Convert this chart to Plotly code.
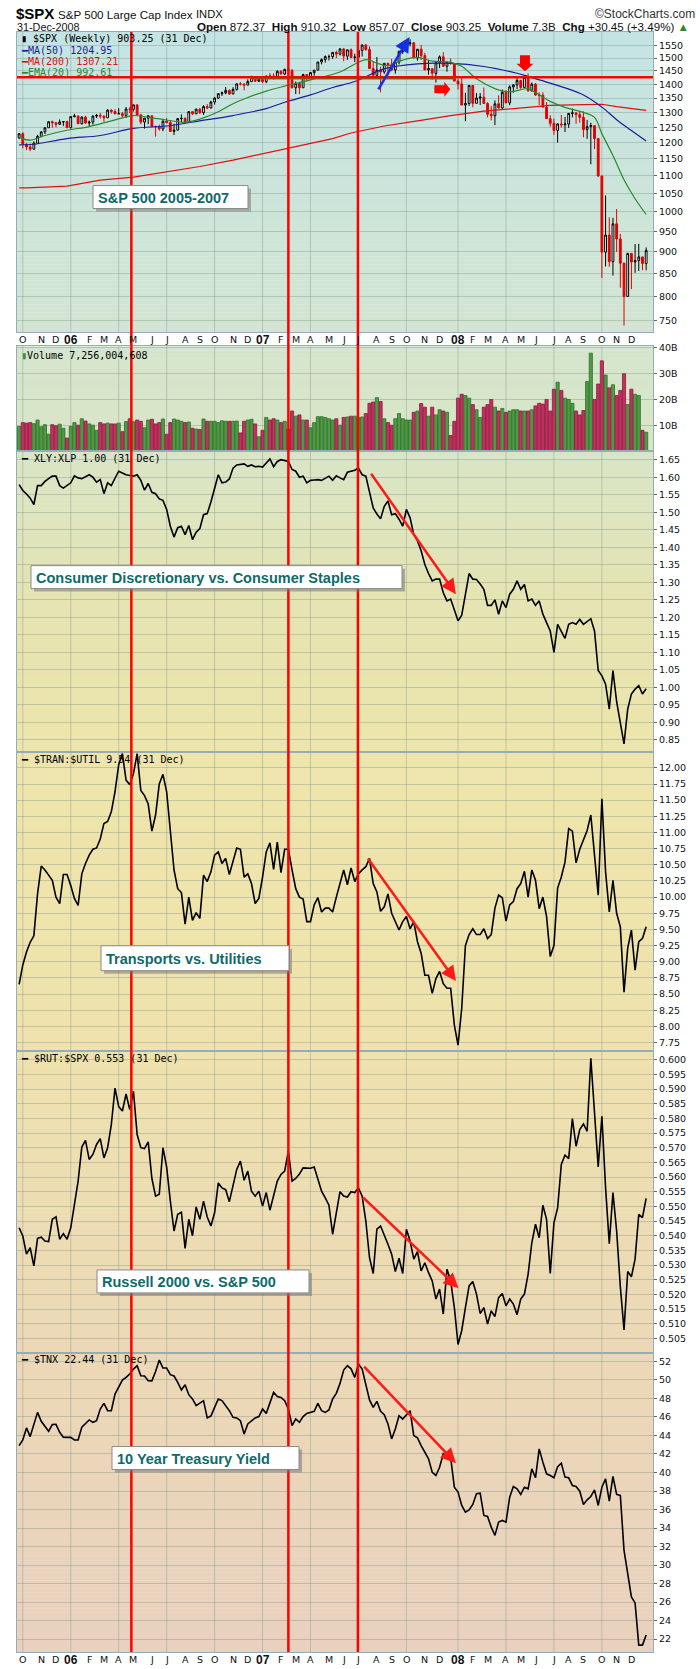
import numpy as np
import pandas as pd
import plotly.graph_objects as go

W, H = 700, 1669
X_L, X_R = 17, 653

# ---------------- data ----------------
week_start = pd.date_range("2005-09-26", periods=171, freq="W-MON")

spx_open = [
    1215.6, 1228.8, 1195.9, 1186.6, 1179.6, 1198.4, 1220.1, 1234.7, 1248.3, 1268.3,
    1265.1, 1259.4, 1267.3, 1268.7, 1248.3, 1285.5, 1287.6, 1261.5, 1283.7, 1264.0,
    1266.9, 1287.2, 1289.4, 1287.2, 1281.4, 1307.3, 1302.9, 1294.8, 1295.5, 1289.1,
    1311.3, 1310.6, 1325.8, 1291.2, 1267.0, 1280.2, 1288.2, 1252.3, 1251.5, 1244.5,
    1270.2, 1265.5, 1236.2, 1240.3, 1278.6, 1279.4, 1266.7, 1302.3, 1295.1, 1311.0,
    1298.9, 1319.7, 1314.8, 1335.9, 1349.6, 1365.6, 1368.6, 1377.3, 1364.3, 1380.9,
    1401.2, 1400.9, 1396.7, 1409.8, 1427.1, 1410.8, 1418.3, 1409.7, 1430.7, 1430.5,
    1422.2, 1448.4, 1438.1, 1455.5, 1451.2, 1387.2, 1402.8, 1386.9, 1436.1, 1420.9,
    1443.8, 1452.9, 1484.4, 1494.1, 1505.6, 1505.9, 1522.8, 1515.7, 1536.3, 1507.7,
    1532.9, 1502.6, 1503.4, 1530.4, 1552.5, 1534.1, 1458.9, 1433.1, 1453.6, 1445.9,
    1479.4, 1474.0, 1453.6, 1484.3, 1525.8, 1526.8, 1557.6, 1561.8, 1500.6, 1535.3,
    1509.7, 1453.7, 1458.7, 1440.7, 1481.1, 1504.7, 1468.0, 1484.5, 1478.5, 1411.6,
    1401.0, 1325.2, 1330.6, 1395.4, 1331.3, 1350.0, 1353.1, 1330.6, 1293.4, 1288.1,
    1329.5, 1315.2, 1370.4, 1332.8, 1390.3, 1397.8, 1413.9, 1388.3, 1425.4, 1375.9,
    1400.4, 1360.7, 1360.0, 1317.9, 1278.4, 1262.9, 1239.5, 1260.7, 1257.8, 1260.3,
    1296.3, 1298.2, 1292.2, 1282.8, 1242.3, 1251.7, 1255.1, 1213.3, 1099.2, 899.2,
    940.6, 876.8, 968.8, 931.0, 873.3, 800.0, 896.2, 876.1, 879.7, 887.9,
    872.37]
spx_high = [
    1229.9, 1233.3, 1197.4, 1197.3, 1204.0, 1225.0, 1235.7, 1249.6, 1268.8, 1272.1,
    1265.9, 1275.8, 1270.5, 1271.8, 1286.1, 1294.9, 1287.6, 1286.4, 1287.9, 1272.2,
    1289.2, 1294.3, 1297.6, 1288.5, 1310.9, 1310.9, 1310.2, 1314.1, 1300.7, 1318.2,
    1317.7, 1326.7, 1326.7, 1294.8, 1280.5, 1290.7, 1288.2, 1255.2, 1258.6, 1272.9,
    1280.4, 1273.3, 1261.5, 1280.4, 1292.9, 1283.0, 1302.3, 1302.3, 1312.0, 1315.1,
    1324.6, 1328.5, 1340.0, 1353.8, 1366.6, 1372.8, 1389.5, 1381.4, 1388.9, 1403.8,
    1407.9, 1402.5, 1418.3, 1431.6, 1430.0, 1427.7, 1429.4, 1431.6, 1441.6, 1440.7,
    1452.0, 1453.0, 1458.7, 1461.6, 1457.0, 1410.2, 1409.3, 1438.9, 1437.8, 1445.9,
    1453.1, 1484.7, 1498.0, 1510.3, 1513.8, 1522.8, 1529.9, 1540.6, 1540.6, 1533.3,
    1538.7, 1517.1, 1532.4, 1555.1, 1555.9, 1547.2, 1488.3, 1503.9, 1466.3, 1479.4,
    1481.5, 1496.4, 1485.4, 1530.4, 1533.7, 1561.9, 1576.1, 1564.7, 1535.9, 1552.8,
    1520.8, 1492.1, 1458.7, 1488.9, 1510.5, 1523.6, 1485.4, 1498.9, 1478.5, 1421.0,
    1425.0, 1368.6, 1396.0, 1395.4, 1367.9, 1367.9, 1388.3, 1335.1, 1321.7, 1341.6,
    1359.7, 1380.9, 1378.0, 1395.9, 1399.6, 1422.7, 1416.0, 1425.8, 1440.2, 1406.3,
    1404.1, 1370.6, 1370.6, 1335.6, 1290.3, 1278.5, 1262.3, 1291.2, 1284.4, 1297.9,
    1313.2, 1298.6, 1303.6, 1303.0, 1274.4, 1265.1, 1255.1, 1213.3, 1099.2, 1044.3,
    985.4, 984.4, 1007.5, 943.6, 874.4, 896.3, 896.2, 918.6, 918.9, 887.9,
    910.32]
spx_low = [
    1211.7, 1181.9, 1176.6, 1173.4, 1178.9, 1198.4, 1217.3, 1227.7, 1248.3, 1248.4,
    1250.0, 1259.4, 1254.3, 1248.3, 1245.7, 1282.8, 1261.0, 1258.6, 1261.6, 1253.0,
    1258.3, 1280.2, 1278.7, 1268.4, 1281.4, 1295.8, 1294.7, 1294.8, 1280.7, 1280.7,
    1298.0, 1303.0, 1290.9, 1259.6, 1245.3, 1259.8, 1250.6, 1219.3, 1238.5, 1237.0,
    1263.0, 1236.2, 1224.5, 1240.3, 1265.7, 1261.3, 1266.7, 1291.0, 1293.6, 1294.1,
    1290.9, 1310.9, 1314.8, 1327.1, 1347.0, 1357.5, 1363.4, 1360.7, 1364.3, 1376.5,
    1395.2, 1377.8, 1396.7, 1407.8, 1410.3, 1410.1, 1404.0, 1403.9, 1421.6, 1416.9,
    1419.6, 1437.1, 1433.8, 1449.0, 1384.1, 1364.0, 1364.0, 1386.9, 1412.1, 1416.4,
    1431.8, 1452.9, 1475.3, 1482.0, 1490.7, 1496.8, 1500.2, 1510.2, 1487.4, 1492.7,
    1499.6, 1484.2, 1503.4, 1506.3, 1529.2, 1458.9, 1433.1, 1429.4, 1370.6, 1439.2,
    1432.0, 1449.1, 1439.3, 1475.0, 1516.6, 1526.8, 1546.7, 1500.3, 1489.6, 1492.5,
    1453.6, 1435.7, 1416.2, 1406.1, 1460.7, 1468.0, 1447.1, 1474.4, 1411.2, 1380.9,
    1324.5, 1270.1, 1322.4, 1317.5, 1331.3, 1325.3, 1330.6, 1282.7, 1272.7, 1257.0,
    1312.8, 1312.6, 1332.1, 1324.4, 1369.4, 1382.0, 1382.5, 1384.7, 1373.1, 1373.1,
    1358.0, 1324.9, 1317.9, 1278.4, 1252.0, 1225.3, 1200.4, 1248.5, 1234.4, 1247.5,
    1282.9, 1261.2, 1264.8, 1217.2, 1212.3, 1133.5, 1180.0, 1096.4, 839.8, 865.8,
    865.0, 845.3, 899.7, 818.7, 741.0, 800.0, 815.7, 851.4, 855.6, 857.1,
    857.07]
spx_close = [
    1228.8, 1195.9, 1186.6, 1179.6, 1198.4, 1220.1, 1234.7, 1248.3, 1268.3, 1265.1,
    1259.4, 1267.3, 1268.7, 1248.3, 1285.5, 1287.6, 1261.5, 1283.7, 1264.0, 1266.9,
    1287.2, 1289.4, 1287.2, 1281.4, 1307.3, 1302.9, 1294.8, 1295.5, 1289.1, 1311.3,
    1310.6, 1325.8, 1291.2, 1267.0, 1280.2, 1288.2, 1252.3, 1251.5, 1244.5, 1270.2,
    1265.5, 1236.2, 1240.3, 1278.6, 1279.4, 1266.7, 1302.3, 1295.1, 1311.0, 1298.9,
    1319.7, 1314.8, 1335.9, 1349.6, 1365.6, 1368.6, 1377.3, 1364.3, 1380.9, 1401.2,
    1400.9, 1396.7, 1409.8, 1427.1, 1410.8, 1418.3, 1409.7, 1430.7, 1430.5, 1422.2,
    1448.4, 1438.1, 1455.5, 1451.2, 1387.2, 1402.8, 1386.9, 1436.1, 1420.9, 1443.8,
    1452.9, 1484.4, 1494.1, 1505.6, 1505.9, 1522.8, 1515.7, 1536.3, 1507.7, 1532.9,
    1502.6, 1503.4, 1530.4, 1552.5, 1534.1, 1458.9, 1433.1, 1453.6, 1445.9, 1479.4,
    1474.0, 1453.6, 1484.3, 1525.8, 1526.8, 1557.6, 1561.8, 1500.6, 1535.3, 1509.7,
    1453.7, 1458.7, 1440.7, 1481.1, 1504.7, 1468.0, 1484.5, 1478.5, 1411.6, 1401.0,
    1325.2, 1330.6, 1395.4, 1331.3, 1350.0, 1353.1, 1330.6, 1293.4, 1288.1, 1329.5,
    1315.2, 1370.4, 1332.8, 1390.3, 1397.8, 1413.9, 1388.3, 1425.4, 1375.9, 1400.4,
    1360.7, 1360.0, 1317.9, 1278.4, 1262.9, 1239.5, 1260.7, 1257.8, 1260.3, 1296.3,
    1298.2, 1292.2, 1282.8, 1242.3, 1251.7, 1255.1, 1213.3, 1099.2, 899.2, 940.6,
    876.8, 968.8, 931.0, 873.3, 800.0, 896.2, 876.1, 879.7, 887.9, 872.8,
    903.25]
volume_b = [
    9.5, 11.0, 10.8, 11.0, 10.6, 12.0, 9.4, 10.2, 6.5, 10.2,
    9.8, 10.4, 8.8, 5.0, 9.5, 11.0, 10.0, 12.5, 11.6, 10.5,
    10.0, 8.0, 11.0, 10.5, 10.8, 10.5, 10.5, 10.8, 7.5, 11.4,
    12.5, 11.3, 12.0, 11.5, 9.0, 12.0, 12.3, 10.5, 11.0, 12.4,
    6.5, 11.0, 12.4, 12.0, 11.5, 11.0, 11.2, 8.8, 8.5, 8.3,
    12.4, 11.5, 11.5, 11.5, 11.0, 11.7, 11.5, 11.5, 11.5, 11.6,
    7.0, 11.5, 12.0, 12.3, 10.5, 5.5, 8.0, 13.0, 12.0, 12.5,
    12.0, 11.0, 11.5, 8.5, 15.5, 13.5, 14.0, 12.0, 12.0, 9.0,
    11.0, 13.3, 13.3, 13.0, 12.5, 12.0, 12.5, 10.0, 13.0, 13.2,
    13.5, 13.5, 13.0, 13.2, 14.5, 18.5, 19.0, 20.7, 19.2, 12.5,
    11.0, 10.0, 12.5, 14.5, 12.5, 12.0, 12.0, 15.0, 15.5, 18.4,
    17.0, 13.5, 17.0, 14.0, 16.0, 15.5, 15.0, 6.0, 11.5, 20.5,
    22.0, 21.5, 20.5, 18.0, 16.0, 13.0, 17.0, 18.0, 20.0, 17.0,
    15.5, 16.5, 15.0, 15.5, 16.0, 16.0, 15.5, 15.5, 15.5, 16.0,
    17.5, 18.5, 18.2, 20.0, 15.5, 24.0, 26.7, 23.5, 20.5, 20.0,
    18.5, 15.5, 14.0, 15.7, 27.0, 38.0, 20.0, 26.0, 35.0, 29.5,
    24.5, 25.7, 21.5, 23.5, 30.0, 18.0, 24.0, 22.0, 21.5, 8.0,
    7.26]
xly_xlp = [
    1.579, 1.562, 1.552, 1.540, 1.522, 1.576, 1.576, 1.588, 1.596, 1.603,
    1.603, 1.576, 1.569, 1.576, 1.584, 1.604, 1.598, 1.596, 1.601, 1.607,
    1.600, 1.586, 1.593, 1.553, 1.584, 1.576, 1.597, 1.617, 1.612, 1.607,
    1.605, 1.603, 1.607, 1.591, 1.563, 1.582, 1.557, 1.553, 1.538, 1.534,
    1.508, 1.460, 1.429, 1.456, 1.460, 1.436, 1.462, 1.422, 1.443, 1.453,
    1.493, 1.496, 1.529, 1.569, 1.607, 1.584, 1.586, 1.595, 1.626, 1.635,
    1.637, 1.638, 1.631, 1.635, 1.630, 1.631, 1.629, 1.640, 1.652, 1.630,
    1.645, 1.650, 1.648, 1.645, 1.622, 1.617, 1.600, 1.603, 1.584, 1.591,
    1.592, 1.593, 1.591, 1.597, 1.603, 1.591, 1.604, 1.598, 1.593, 1.614,
    1.617, 1.620, 1.626, 1.607, 1.603, 1.555, 1.512, 1.495, 1.481, 1.517,
    1.532, 1.493, 1.496, 1.480, 1.460, 1.508, 1.484, 1.436, 1.418, 1.390,
    1.351, 1.325, 1.304, 1.309, 1.309, 1.270, 1.247, 1.252, 1.220, 1.190,
    1.206, 1.261, 1.325, 1.309, 1.308, 1.295, 1.280, 1.234, 1.234, 1.250,
    1.209, 1.247, 1.228, 1.266, 1.280, 1.304, 1.280, 1.294, 1.247, 1.252,
    1.234, 1.247, 1.209, 1.185, 1.161, 1.100, 1.180, 1.160, 1.140, 1.180,
    1.185, 1.180, 1.194, 1.180, 1.188, 1.196, 1.161, 1.048, 1.033, 1.009,
    0.938, 1.048, 0.959, 0.900, 0.839, 0.938, 0.981, 0.995, 1.005, 0.981,
    0.996]
tran_util = [
    8.65, 8.95, 9.15, 9.30, 9.40, 10.05, 10.48, 10.42, 10.34, 10.26,
    10.00, 9.90, 10.35, 10.35, 10.18, 9.98, 9.87, 10.36, 10.52, 10.65,
    10.74, 10.76, 10.90, 11.14, 11.17, 11.32, 11.63, 12.05, 12.22, 11.81,
    11.74, 11.91, 12.22, 11.65, 11.57, 11.44, 11.02, 11.27, 11.75, 11.90,
    11.63, 11.01, 10.42, 10.13, 10.07, 9.58, 10.00, 9.64, 9.76, 9.67,
    10.34, 10.24, 10.39, 10.65, 10.70, 10.52, 10.60, 10.35, 10.57, 10.76,
    10.74, 10.31, 10.36, 10.21, 9.90, 9.98, 10.31, 10.70, 10.84, 10.43,
    10.85, 10.38, 10.74, 10.74, 10.42, 10.13, 10.00, 9.97, 9.62, 9.62,
    9.88, 9.99, 9.77, 9.83, 9.83, 9.77, 10.00, 10.21, 10.42, 10.19,
    10.45, 10.24, 10.36, 10.42, 10.47, 10.60, 10.21, 10.08, 9.78, 9.85,
    10.05, 9.75, 9.62, 9.49, 9.62, 9.70, 9.51, 9.62, 9.31, 9.13,
    8.79, 8.79, 8.51, 8.74, 8.85, 8.66, 8.59, 8.59, 8.02, 7.71,
    8.28, 9.25, 9.42, 9.51, 9.42, 9.42, 9.51, 9.36, 9.42, 9.83,
    10.03, 9.99, 9.63, 9.88, 9.93, 10.13, 10.21, 10.40, 10.00, 10.42,
    10.26, 9.82, 10.00, 9.70, 9.08, 9.25, 10.14, 10.31, 10.54, 11.06,
    11.02, 10.53, 10.74, 10.90, 11.03, 11.27, 10.65, 10.03, 11.52, 10.39,
    9.77, 10.26, 9.75, 9.54, 8.53, 9.21, 9.49, 8.87, 9.31, 9.36,
    9.54]
rut_spx = [
    .5427, .5399, .5337, .5359, .5297, .5391, .5395, .5382, .5380, .5456,
    .5464, .5388, .5407, .5388, .5427, .5507, .5586, .5702, .5725, .5660,
    .5677, .5711, .5731, .5665, .5700, .5779, .5903, .5840, .5825, .5883,
    .5830, .5892, .5745, .5700, .5697, .5720, .5595, .5535, .5541, .5700,
    .5634, .5518, .5416, .5473, .5480, .5357, .5456, .5400, .5498, .5456,
    .5518, .5464, .5433, .5478, .5580, .5563, .5557, .5516, .5575, .5626,
    .5654, .5589, .5620, .5552, .5535, .5552, .5501, .5547, .5487, .5538,
    .5586, .5609, .5620, .5688, .5586, .5595, .5610, .5631, .5631, .5630,
    .5634, .5595, .5552, .5529, .5504, .5405, .5473, .5550, .5535, .5532,
    .5550, .5547, .5563, .5535, .5450, .5325, .5271, .5422, .5433, .5405,
    .5371, .5337, .5278, .5323, .5271, .5422, .5382, .5320, .5346, .5280,
    .5308, .5274, .5246, .5184, .5218, .5133, .5286, .5246, .5155, .5029,
    .5077, .5155, .5229, .5244, .5201, .5135, .5155, .5099, .5144, .5124,
    .5189, .5203, .5161, .5184, .5167, .5131, .5184, .5201, .5269, .5376,
    .5439, .5393, .5504, .5456, .5271, .5444, .5495, .5643, .5675, .5663,
    .5799, .5705, .5762, .5781, .5756, .6005, .5813, .5634, .5807, .5563,
    .5373, .5547, .5416, .5226, .5079, .5278, .5260, .5320, .5473, .5462,
    .5527]
tnx = [
    42.91, 43.52, 44.82, 43.88, 45.2, 46.50, 45.53, 45.0, 44.45, 45.18,
    45.2, 44.35, 43.81, 43.8, 43.81, 43.52, 43.52, 44.89, 45.3, 45.68,
    45.42, 45.6, 46.86, 47.47, 46.68, 46.68, 48.48, 49.2, 49.99, 50.28,
    50.64, 51.18, 51.54, 50.46, 50.43, 49.92, 49.9, 50.92, 52.15, 51.29,
    51.29, 50.57, 50.43, 49.74, 48.92, 49.49, 48.41, 47.95, 47.23, 47.5,
    47.76, 45.90, 46.1, 47.04, 47.95, 47.77, 47.2, 46.68, 45.96, 45.9,
    45.6, 44.17, 45.25, 45.6, 45.9, 46.04, 46.86, 46.39, 47.47, 48.66,
    48.2, 48.12, 47.76, 46.86, 45.07, 45.79, 45.42, 46.04, 46.39, 46.5,
    46.61, 47.47, 46.68, 46.5, 46.75, 47.95, 48.55, 49.63, 51.07, 51.54,
    51.2, 50.28, 51.72, 51.18, 49.56, 47.84, 47.04, 47.69, 46.61, 46.25,
    45.25, 43.63, 44.71, 46.14, 45.78, 46.2, 46.68, 43.99, 43.74, 42.91,
    42.19, 41.48, 40.03, 39.68, 40.57, 42.02, 41.66, 41.6, 38.41, 37.88,
    36.44, 35.72, 35.96, 36.55, 37.70, 37.77, 35.36, 35.25, 34.10, 33.21,
    34.64, 34.82, 34.64, 37.34, 38.49, 38.24, 37.63, 38.41, 38.24, 40.39,
    39.43, 42.55, 41.11, 39.86, 39.68, 39.43, 40.64, 41.0, 39.5, 39.43,
    38.6, 38.49, 37.98, 36.55, 37.05, 37.41, 38.13, 36.44, 38.41, 39.32,
    36.91, 39.57, 37.63, 37.52, 31.59, 29.08, 26.56, 25.91, 21.35, 21.35,
    22.44]

ma50_week = [0, 4, 13, 22, 31, 40, 49, 58, 67, 72, 79, 85, 91, 99, 108, 117, 126, 135, 138, 144, 153, 158, 162, 166, 170]
ma50_val = [1193, 1195, 1213, 1223, 1246, 1254, 1271, 1289, 1313, 1335, 1361, 1388, 1410, 1458, 1477, 1479, 1467, 1441, 1429, 1404, 1361, 1318, 1275, 1239, 1205]
ma200_week = [0, 2, 13, 22, 31, 40, 49, 58, 67, 72, 85, 90, 99, 108, 117, 126, 135, 144, 153, 158, 162, 170]
ma200_val = [1065, 1065, 1070, 1087, 1096, 1112, 1127, 1146, 1168, 1182, 1213, 1231, 1254, 1271, 1289, 1304, 1315, 1324, 1327, 1328, 1320, 1307]
ema20_week = [0, 3, 7, 13, 19, 25, 31, 35, 40, 45, 49, 54, 58, 62, 67, 72, 79, 87, 94, 97, 100, 104, 108, 112, 117, 120, 124, 129, 133, 138, 140, 144, 148, 153, 156, 158, 161, 164, 167, 170]
ema20_val = [1217, 1208, 1223, 1240, 1252, 1271, 1289, 1283, 1274, 1266, 1277, 1302, 1330, 1352, 1375, 1393, 1416, 1446, 1494, 1480, 1470, 1492, 1503, 1488, 1483, 1468, 1420, 1384, 1372, 1384, 1370, 1338, 1317, 1300, 1283, 1229, 1160, 1088, 1035, 993]

red_marker_dates = ["2006-04-27", "2007-02-19", "2007-07-01"]
month_letters = ["J", "F", "M", "A", "M", "J", "J", "A", "S", "O", "N", "D"]
price_ticks = [750, 800, 850, 900, 950, 1000, 1050, 1100, 1150, 1200, 1250, 1300, 1350, 1400, 1450, 1500, 1550]
vol_ticks = [10, 20, 30, 40]
xly_ticks = [0.85, 0.90, 0.95, 1.00, 1.05, 1.10, 1.15, 1.20, 1.25, 1.30, 1.35, 1.40, 1.45, 1.50, 1.55, 1.60, 1.65]
tran_ticks = [7.75, 8.00, 8.25, 8.50, 8.75, 9.00, 9.25, 9.50, 9.75, 10.00, 10.25, 10.50, 10.75, 11.00, 11.25, 11.50, 11.75, 12.00]
rut_ticks = [0.505, 0.510, 0.515, 0.520, 0.525, 0.530, 0.535, 0.540, 0.545, 0.550, 0.555, 0.560, 0.565, 0.570, 0.575, 0.580, 0.585, 0.590, 0.595, 0.600]
tnx_ticks = [22, 24, 26, 28, 30, 32, 34, 36, 38, 40, 42, 44, 46, 48, 50, 52]

# ---------------- layout helpers ----------------
def fx(p):
    return p / W

def fy(p):
    return 1 - p / H

panels = [(28, 329), (343, 448), (448, 750), (750, 1050), (1050, 1352), (1352, 1652)]
X_RANGE = ["2005-09-22", "2009-01-11"]
BORDER = "#94adb8"
GRID = "rgba(120,145,135,0.38)"

color_stops = [
    (28, (196, 228, 228)), (329, (211, 229, 210)), (343, (213, 229, 204)), (448, (217, 229, 199)),
    (600, (229, 228, 178)), (750, (237, 229, 171)), (900, (239, 228, 171)), (1050, (239, 226, 174)),
    (1200, (237, 221, 178)), (1352, (236, 216, 182)), (1500, (235, 213, 186)), (1652, (233, 209, 190)),
]

def grad(y):
    for (y0, c0), (y1, c1) in zip(color_stops[:-1], color_stops[1:]):
        if y0 <= y <= y1:
            t = (y - y0) / (y1 - y0)
            c = [round(a + (b - a) * t) for a, b in zip(c0, c1)]
            return "rgb(%d,%d,%d)" % tuple(c)
    return "rgb(%d,%d,%d)" % color_stops[-1][1]

shapes = []
annotations = []

# gradient backgrounds
for (t, b) in panels:
    n = max(1, int((b - t) / 4))
    for k in range(n):
        y0 = t + (b - t) * k / n
        y1 = t + (b - t) * (k + 1) / n
        shapes.append(dict(type="rect", xref="paper", yref="paper", x0=fx(X_L), x1=fx(X_R),
                           y0=fy(y1 + 0.6), y1=fy(y0), fillcolor=grad((y0 + y1) / 2),
                           line=dict(width=0), layer="below"))

# month label positions: first weekly bar (Monday) of every month
months = pd.date_range("2005-10-01", "2008-12-01", freq="MS")
first_mondays = [m + pd.Timedelta(days=(7 - m.weekday()) % 7) for m in months]
quarter_lines = [d for d, m in zip(first_mondays, months) if m.month in (1, 4, 7, 10)]

# vertical quarterly gridlines
for d in quarter_lines:
    for (ya, yb) in [(28, 329), (343, 1652)]:
        shapes.append(dict(type="line", xref="x", yref="paper", x0=d, x1=d, y0=fy(yb), y1=fy(ya),
                           line=dict(color=GRID, width=1), layer="below"))

fig = go.Figure()

# ---- price panel ----
fig.add_trace(go.Candlestick(
    x=week_start, open=spx_open, high=spx_high, low=spx_low, close=spx_close,
    increasing=dict(line=dict(color="black", width=1), fillcolor="white"),
    decreasing=dict(line=dict(color="#e00000", width=1), fillcolor="#e00000"),
    whiskerwidth=0, xaxis="x", yaxis="y", showlegend=False, hoverinfo="skip"))
fig.add_trace(go.Scatter(x=week_start[ma200_week], y=ma200_val, mode="lines",
                         line=dict(color="#e01010", width=1.2), xaxis="x", yaxis="y",
                         showlegend=False, hoverinfo="skip"))
fig.add_trace(go.Scatter(x=week_start[ma50_week], y=ma50_val, mode="lines", line_shape="spline",
                         line=dict(color="#1c1c9c", width=1.2), xaxis="x", yaxis="y",
                         showlegend=False, hoverinfo="skip"))
fig.add_trace(go.Scatter(x=week_start[ema20_week], y=ema20_val, mode="lines", line_shape="spline",
                         line=dict(color="#2a8a2a", width=1.2), xaxis="x", yaxis="y",
                         showlegend=False, hoverinfo="skip"))

# ---- volume ----
vol_up = [spx_close[0] >= spx_open[0]] + [spx_close[i] >= spx_close[i - 1] for i in range(1, len(spx_close))]
fig.add_trace(go.Bar(x=week_start, y=volume_b, width=6 * 86400000,
                     marker=dict(color=["#4f9a45" if u else "#c3305e" for u in vol_up],
                                 line=dict(color=["#2f6e2a" if u else "#8a1a40" for u in vol_up], width=0.8)),
                     xaxis="x2", yaxis="y2", showlegend=False, hoverinfo="skip"))

# ---- ratio / yield lines ----
for ser, ax in [(xly_xlp, "3"), (tran_util, "4"), (rut_spx, "5"), (tnx, "6")]:
    fig.add_trace(go.Scatter(x=week_start, y=ser, mode="lines", line=dict(color="black", width=1.6),
                             xaxis="x" + ax, yaxis="y" + ax, showlegend=False, hoverinfo="skip"))

# ---- axes ----
layout = dict(width=W, height=H, margin=dict(l=0, r=0, t=0, b=0), paper_bgcolor="white",
              plot_bgcolor="rgba(0,0,0,0)", font=dict(family="DejaVu Sans", size=10, color="#111"),
              showlegend=False, bargap=0)

def xaxis_conf(anchor):
    return dict(domain=[fx(X_L), fx(X_R)], anchor=anchor, range=X_RANGE, type="date",
                showgrid=False, zeroline=False, showline=True, linecolor=BORDER, mirror=True,
                showticklabels=False, ticks="", rangeslider=dict(visible=False), fixedrange=True)

def yaxis_conf(anchor, pan, rng, ticks, fmt, typ="linear"):
    t, b = pan
    return dict(domain=[fy(b), fy(t)], anchor=anchor, range=rng, type=typ, side="right",
                tickmode="array", tickvals=ticks, ticktext=[fmt.format(v) for v in ticks],
                ticks="outside", ticklen=3, tickcolor="#666",
                tickfont=dict(family="DejaVu Sans", size=9.5, color="#111"),
                showgrid=True, gridcolor=GRID, gridwidth=1, zeroline=False,
                showline=True, linecolor=BORDER, mirror=True, fixedrange=True)

layout["xaxis"] = xaxis_conf("y")
layout["yaxis"] = yaxis_conf("x", panels[0], [np.log10(728.0), np.log10(1607.0)], price_ticks, "{:d}", typ="log")
layout["xaxis2"] = xaxis_conf("y2")
layout["yaxis2"] = yaxis_conf("x2", panels[1], [0, 40.7], vol_ticks, "{:d}B")
layout["xaxis3"] = xaxis_conf("y3")
layout["yaxis3"] = yaxis_conf("x3", panels[2], [0.815, 1.675], xly_ticks, "{:.2f}")
layout["xaxis4"] = xaxis_conf("y4")
layout["yaxis4"] = yaxis_conf("x4", panels[3], [7.611, 12.242], tran_ticks, "{:.2f}")
layout["xaxis5"] = xaxis_conf("y5")
layout["yaxis5"] = yaxis_conf("x5", panels[4], [0.5001, 0.6028], rut_ticks, "{:.3f}")
layout["xaxis6"] = xaxis_conf("y6")
layout["yaxis6"] = yaxis_conf("x6", panels[5], [20.6, 52.94], tnx_ticks, "{:d}")

# month labels (under price panel and under bottom panel)
for d, m in zip(first_mondays, months):
    if m.month == 1:
        label = "<b>%s</b>" % m.strftime("%y")
        f = dict(family="Liberation Sans, Arial, sans-serif", size=12, color="#111")
    else:
        label = month_letters[m.month - 1]
        f = dict(family="DejaVu Sans", size=9.5, color="#111")
    for yrow in (336.5, 1659.5):
        annotations.append(dict(xref="x", yref="paper", x=d.strftime("%Y-%m-%d"), y=fy(yrow), text=label,
                                showarrow=False, xanchor="center", yanchor="middle", font=f))

# ---- price panel overlays ----
shapes.append(dict(type="line", xref="x", yref="y", x0="2006-12-09", x1="2008-01-01", y0=1423, y1=1423,
                   line=dict(color="#1f9a1f", width=3), layer="above"))
shapes.append(dict(type="line", xref="x domain", yref="y", x0=0, x1=1, y0=1426, y1=1426,
                   line=dict(color="#ff0000", width=2.5), layer="above"))
# fat red arrows
shapes.append(dict(type="path", xref="x", yref="y", xsizemode="pixel", ysizemode="pixel",
                   xanchor="2007-11-23", yanchor=1382,
                   path="M0,-4 L10,-4 L10,-7.5 L16,0 L10,7.5 L10,4 L0,4 Z",
                   fillcolor="#ff0000", line=dict(width=0), layer="above"))
shapes.append(dict(type="path", xref="x", yref="y", xsizemode="pixel", ysizemode="pixel",
                   xanchor="2008-05-13", yanchor=1449,
                   path="M-5,16 L5,16 L5,7.5 L8.5,7.5 L0,0 L-8.5,7.5 L-5,7.5 Z",
                   fillcolor="#ff0000", line=dict(width=0), layer="above"))

# red vertical marker lines
for d in red_marker_dates:
    shapes.append(dict(type="line", xref="x", yref="paper", x0=d, x1=d, y0=fy(1652), y1=fy(28),
                       line=dict(color="#ff0000", width=2.5), layer="above"))

# ---- caption boxes ----
TEAL = "#0f6a6a"
boxes = [
    ("S&P 500 2005-2007", 93, 248, 182, 205, 96),
    ("Consumer Discretionary vs. Consumer Staples", 31, 402, 563, 586, 34),
    ("Transports vs. Utilities", 101, 289, 944, 969, 104),
    ("Russell 2000 vs. S&P 500", 97, 309, 1269, 1292, 100),
    ("10 Year Treasury Yield", 112, 299, 1446, 1469, 115),
]
for text, x0, x1, y0, y1, tx in boxes:
    shapes.append(dict(type="rect", xref="paper", yref="paper", x0=fx(x0 + 3), x1=fx(x1 + 3),
                       y0=fy(y1 + 3), y1=fy(y0 + 3), fillcolor="rgba(120,120,120,0.55)",
                       line=dict(width=0), layer="above"))
    shapes.append(dict(type="rect", xref="paper", yref="paper", x0=fx(x0), x1=fx(x1),
                       y0=fy(y1), y1=fy(y0), fillcolor="white",
                       line=dict(color="#8a8a8a", width=1), layer="above"))
    annotations.append(dict(xref="paper", yref="paper", x=fx(tx), y=fy((y0 + y1) / 2 + 0.5),
                            text="<b>%s</b>" % text.replace("&", "&amp;"), showarrow=False,
                            xanchor="left", yanchor="middle",
                            font=dict(family="Liberation Sans, Arial, sans-serif", size=14.5, color=TEAL)))

# ---- trend arrows ----
def arrow(axn, x_tip, y_tip, x_tail, y_tail, color="#ff1a1a"):
    annotations.append(dict(xref="x" + axn, yref="y" + axn, axref="x" + axn, ayref="y" + axn,
                            x=x_tip, y=y_tip, ax=x_tail, ay=y_tail, showarrow=True, text="",
                            arrowhead=2, arrowsize=1.2, arrowwidth=2.5, arrowcolor=color, standoff=0))

arrow("", "2007-10-07", np.log10(1586), "2007-08-07", np.log10(1376), color="#1530e0")
arrow("3", "2008-01-03", 1.266, "2007-07-24", 1.614)
arrow("4", "2008-01-03", 8.70, "2007-07-18", 10.62)
arrow("5", "2008-01-08", 0.5221, "2007-07-08", 0.5535)
arrow("6", "2008-01-03", 41.0, "2007-07-10", 51.61)

# ---- texts ----
MONO = "DejaVu Sans Mono, monospace"
SANS = "Liberation Sans, Arial, sans-serif"

def txt(x, y, text, size, color="#111", family=SANS, anchor="left"):
    annotations.append(dict(xref="paper", yref="paper", x=fx(x), y=fy(y), text=text, showarrow=False,
                            xanchor=anchor, yanchor="middle", font=dict(family=family, size=size, color=color)))

txt(14, 10, "<b>$SPX</b>", 15, "#000")
txt(56, 10.5, "S&amp;P 500 Large Cap Index", 11.6, "#111")
txt(194, 10.5, "INDX", 11.2, "#111")
txt(697, 10.5, "©StockCharts.com", 12, "#333", anchor="right")
txt(15, 23, "31-Dec-2008", 10.8, "#111")
txt(691, 23, "<b>Open</b> 872.37  <b>High</b> 910.32  <b>Low</b> 857.07  <b>Close</b> 903.25  "
             "<b>Volume</b> 7.3B  <b>Chg</b> +30.45 (+3.49%) <span style='color:#2a8a2a'>▲</span>",
    11.6, "#111", anchor="right")

txt(19, 35, "▮ $SPX (Weekly) 903.25 (31 Dec)", 10, "#000", MONO)
txt(19, 46.7, "━MA(50) 1204.95", 10, "#1c1c9c", MONO)
txt(19, 57.5, "━MA(200) 1307.21", 10, "#e01010", MONO)
txt(19, 69, "━EMA(20) 992.61", 10, "#2a8a2a", MONO)
txt(19, 352, "<span style='color:#3f8f3a'>▮</span>Volume 7,256,004,608", 10, "#000", MONO)
txt(19, 456, "━ XLY:XLP 1.00 (31 Dec)", 10, "#000", MONO)
txt(19, 757, "━ $TRAN:$UTIL 9.54 (31 Dec)", 10, "#000", MONO)
txt(19, 1057.5, "━ $RUT:$SPX 0.553 (31 Dec)", 10, "#000", MONO)
txt(19, 1359, "━ $TNX 22.44 (31 Dec)", 10, "#000", MONO)

layout["shapes"] = shapes
layout["annotations"] = annotations
fig.update_layout(**layout)
fig.write_html("out.html", include_plotlyjs=True,
               config={"displayModeBar": False, "staticPlot": True},
               post_script="document.documentElement.style.margin='0';document.body.style.margin='0';"
                           "document.body.style.padding='0';document.documentElement.style.overflow='hidden';")
